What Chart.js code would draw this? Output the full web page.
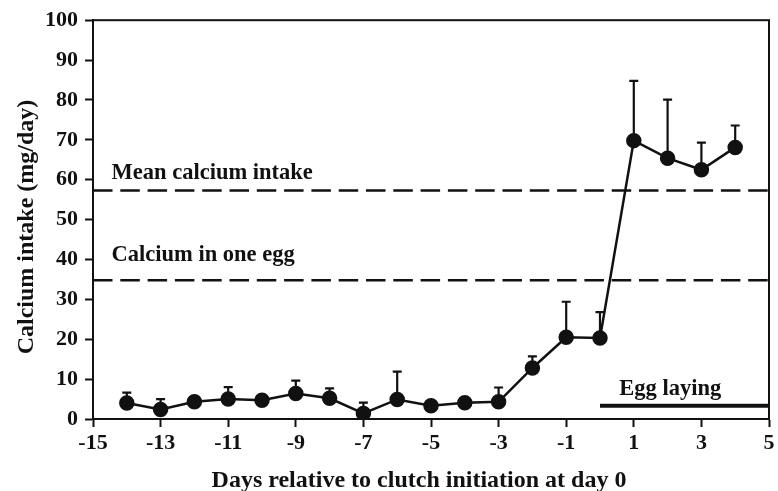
<!DOCTYPE html>
<html>
<head>
<meta charset="utf-8">
<script src="https://cdn.jsdelivr.net/npm/chart.js"></script>
<style>
  html, body { margin: 0; padding: 0; background: #fff; }
  #wrap { width: 778px; height: 491px; }
</style>
</head>
<body>
<div id="wrap"><canvas id="chart"></canvas></div>
<script>
const days = [-14, -13, -12, -11, -10, -9, -8, -7, -6, -5, -4, -3, -2, -1, 0, 1, 2, 3, 4]
const intake = [4.0, 2.4, 4.3, 5.0, 4.7, 6.4, 5.2, 1.4, 4.9, 3.3, 4.1, 4.3, 12.8, 20.5, 20.3, 69.8, 65.4, 62.5, 68.1]
// upper end of the error bar (null = no bar visible)
const errTop = [6.6, 5.0, null, 8.0, null, 9.6, 7.7, 4.1, 11.9, null, null, 7.9, 15.7, 29.4, 26.8, 84.8, 80.1, 69.3, 73.6]
const xTicks = [-15, -13, -11, -9, -7, -5, -3, -1, 1, 3, 5]
const meanIntake = 57.3
const eggCalcium = 34.8
const eggLaying = { from: 0, to: 5, level: 3.3 }
const notes = [
    { text: 'Mean calcium intake', x: -14.45, y: 60.1 },
    { text: 'Calcium in one egg', x: -14.45, y: 39.6 },
    { text: 'Egg laying', x: 0.57, y: 6.0 },
]
const xTitle = 'Days relative to clutch initiation at day 0'
const yTitle = 'Calcium intake (mg/day)'

const serif = '"Liberation Serif", "Times New Roman", serif'
const ink = '#111'

const errorBars = {
    id: 'errorBars',
    beforeDatasetsDraw(chart) {
        const ctx = chart.ctx
        const x = chart.scales.x
        const y = chart.scales.y
        ctx.save()
        ctx.strokeStyle = ink
        ctx.lineWidth = 2.2
        days.forEach((d, i) => {
            if (errTop[i] == null) return
            const px = x.getPixelForValue(d)
            const py0 = y.getPixelForValue(intake[i])
            const py1 = y.getPixelForValue(errTop[i])
            ctx.beginPath()
            ctx.moveTo(px, py0)
            ctx.lineTo(px, py1)
            ctx.moveTo(px - 4.5, py1)
            ctx.lineTo(px + 4.5, py1)
            ctx.stroke()
        })
        ctx.restore()
    },
    afterDraw(chart) {
        const ctx = chart.ctx
        const a = chart.chartArea
        const x = chart.scales.x
        const y = chart.scales.y
        ctx.save()
        ctx.strokeStyle = ink
        ctx.lineWidth = 2
        ctx.strokeRect(a.left, a.top, a.right - a.left, a.bottom - a.top)
        ctx.fillStyle = ink
        ctx.font = 'bold 22.5px ' + serif
        ctx.textAlign = 'left'
        ctx.textBaseline = 'alphabetic'
        notes.forEach(n => {
            ctx.fillText(n.text, x.getPixelForValue(n.x), y.getPixelForValue(n.y))
        })
        // axis titles, sitting a little off-centre like the original
        ctx.font = 'bold 24px ' + serif
        ctx.textAlign = 'center'
        ctx.fillText(xTitle, 419, 486.5)
        ctx.translate(33, 227)
        ctx.rotate(-Math.PI / 2)
        ctx.fillText(yTitle, 0, 0)
        ctx.restore()
    }
}

const hline = (v, x0, x1) => [{ x: x0, y: v }, { x: x1, y: v }]

new Chart(document.getElementById('chart'), {
    type: 'line',
    data: {
        datasets: [
            {
                label: 'intake',
                data: days.map((d, i) => ({ x: d, y: intake[i] })),
                borderColor: ink,
                backgroundColor: ink,
                borderWidth: 2.5,
                pointRadius: 6.5,
                pointHoverRadius: 6.5,
                tension: 0,
            },
            {
                label: 'mean',
                data: hline(meanIntake, -15, 5),
                borderColor: ink,
                borderWidth: 2.5,
                borderDash: [19.5, 7.8],
                pointRadius: 0,
            },
            {
                label: 'egg',
                data: hline(eggCalcium, -15, 5),
                borderColor: ink,
                borderWidth: 2.5,
                borderDash: [19.5, 7.8],
                pointRadius: 0,
            },
            {
                label: 'laying',
                data: hline(eggLaying.level, eggLaying.from, eggLaying.to),
                borderColor: ink,
                borderWidth: 4,
                pointRadius: 0,
            },
        ],
    },
    options: {
        responsive: true,
        maintainAspectRatio: false,
        animation: false,
        layout: { padding: { top: 18, right: 6, left: 0, bottom: 0 } },
        plugins: {
            legend: { display: false },
            tooltip: { enabled: false },
        },
        scales: {
            x: {
                type: 'linear',
                min: -15,
                max: 5,
                afterBuildTicks: s => { s.ticks = xTicks.map(v => ({ value: v })) },
                afterFit: s => { s.height = 72 },
                grid: { drawOnChartArea: false, tickLength: 8, tickColor: ink, tickWidth: 2 },
                border: { color: ink, width: 2 },
                ticks: { color: ink, padding: 3, font: { family: serif, size: 22, weight: 'bold' } },
            },
            y: {
                min: 0,
                max: 100,
                ticks: { stepSize: 10, color: ink, padding: 7, font: { family: serif, size: 22, weight: 'bold' } },
                afterFit: s => { s.width = 93 },
                grid: { drawOnChartArea: false, tickLength: 8, tickColor: ink, tickWidth: 2 },
                border: { color: ink, width: 2 },
            },
        },
    },
    plugins: [errorBars],
})
</script>
</body>
</html>
